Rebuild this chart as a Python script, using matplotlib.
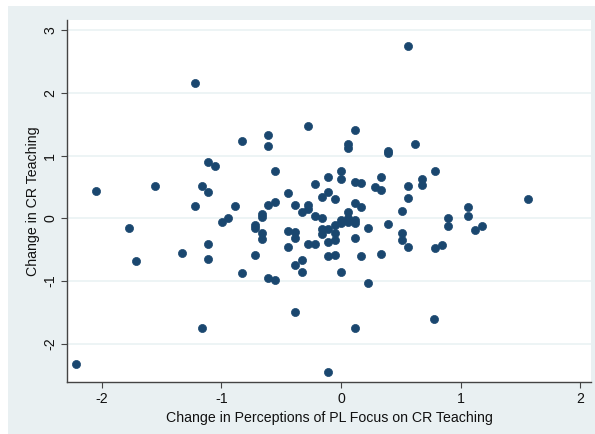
import matplotlib
matplotlib.use("Agg")
import matplotlib.pyplot as plt
from matplotlib.patches import Rectangle

plt.rcParams['font.family'] = ['Liberation Sans', 'DejaVu Sans']

# Change in Perceptions of PL Focus on CR Teaching
x_vals = [-2.214, -2.049, -1.771, -1.715, -1.554, -1.331, -1.217, -1.220, -1.164, -1.107,
          -1.107, -1.050, -1.164, -1.107, -1.107, -0.998, -0.942, -0.886, -0.829, -0.829,
          -0.718, -0.718, -0.718, -0.660, -0.660, -0.660, -0.660, -0.607, -0.607, -0.607,
          -0.551, -0.551, -0.607, -0.551, -0.439, -0.439, -0.384, -0.384, -0.439, -0.384,
          -0.328, -0.328, -0.384, -0.384, -0.328, -0.273, -0.273, -0.273, -0.217, -0.273,
          -0.217, -0.217, -0.161, -0.161, -0.106, -0.050, -0.106, 0.004, 0.004, 0.061,
          0.061, 0.117, 0.117, 0.171, 0.117, 0.171, 0.061, 0.338, 0.284, 0.338,
          0.395, 0.395, 0.618, 0.562, 0.785, 0.673, 0.673, 0.562, 0.562, 0.507,
          1.063, 1.063, 0.896, 0.896, 1.119, 1.175, 1.560, 0.228, 0.395, 0.507,
          0.507, 0.562, 0.785, 0.841, 0.117, -0.106, -0.050, -0.050, -0.106, -0.050,
          0.171, 0.338, 0.004, 0.228, 0.117, 0.779, -0.106, 0.004, 0.061, 0.117,
          -0.050, -0.106, -0.161, -0.161, 0.004, 0.061, 0.117]

# Change in CR Teaching
y_vals = [-2.324, 0.440, -0.150, -0.686, 0.515, -0.558, 2.153, 0.191, 0.515, 0.424,
          0.895, 0.829, -1.754, -0.405, -0.646, -0.062, 0.000, 0.191, 1.233, -0.877,
          -0.099, -0.152, -0.581, 0.069, 0.021, -0.239, -0.338, 1.333, 1.161, 0.207,
          0.268, 0.759, -0.949, -0.984, 0.411, -0.195, -0.211, -0.319, -0.450, -0.745,
          -0.665, -0.861, -1.502, 0.207, 0.108, 0.207, 0.144, 1.472, 0.547, -0.415,
          -0.415, 0.029, -0.003, 0.335, 0.415, 0.300, 0.651, 0.750, 0.627, 1.180,
          1.116, 1.416, 0.574, 0.563, 0.244, 0.185, 0.108, 0.651, 0.502, 0.451,
          1.073, 1.041, 1.180, 2.748, 0.762, 0.630, 0.528, 0.515, 0.316, 0.124,
          0.185, 0.040, 0.000, -0.128, -0.187, -0.128, 0.303, -0.147, -0.096, -0.239,
          -0.346, -0.461, -0.474, -0.418, -0.311, -0.370, -0.354, -0.239, -0.596, -0.585,
          -0.601, -0.574, -0.860, -1.029, -1.754, -1.601, -2.451, -0.027, 0.000, -0.027,
          -0.107, -0.175, -0.175, -0.250, -0.080, -0.054, -0.070]

x_ticks = [-2, -1, 0, 1, 2]
y_ticks = [-2, -1, 0, 1, 2, 3]
x_label = "Change in Perceptions of PL Focus on CR Teaching"
y_label = "Change in CR Teaching"

W, H = 595, 434
fig = plt.figure(figsize=(W / 100, H / 100), dpi=100)
fig.patch.set_facecolor('white')
# Stata-like graph region band
band = Rectangle((8 / W, 0), 1 - 8 / W, 1 - 6 / H, transform=fig.transFigure,
                 facecolor='#e9f0f2', edgecolor='none', zorder=-10)
fig.add_artist(band)

ax = fig.add_axes([67 / W, 1 - 382 / H, (591 - 67) / W, (382 - 20) / H])
ax.set_zorder(1)
ax.set_facecolor('white')
ax.scatter(x_vals, y_vals, s=34, color='#1a476f', edgecolors='#1a476f', linewidths=0.5, zorder=3)

ax.set_xlim(-2.289, 2.089)
ax.set_ylim(-2.611, 3.163)
ax.set_xticks(x_ticks)
ax.set_yticks(y_ticks)
ax.set_xticklabels([f"{t}" for t in x_ticks])
ax.set_yticklabels([f"{t}" for t in y_ticks], rotation=90, va='center')
ax.grid(axis='y', color='#eaf2f3', linewidth=1.2, zorder=0)
ax.set_axisbelow(True)

for side in ['top', 'right']:
    ax.spines[side].set_visible(False)
for side in ['left', 'bottom']:
    ax.spines[side].set_color('#444444')
    ax.spines[side].set_linewidth(1.0)

ax.tick_params(axis='both', colors='#444444', length=4, width=0.8, labelsize=10.2, labelcolor='#111111')
ax.tick_params(axis='y', pad=3)
ax.set_xlabel(x_label, fontsize=10.2, color='#111111', labelpad=3)
ax.set_ylabel(y_label, fontsize=10.2, color='#111111', labelpad=2)

fig.savefig('out.png', dpi=100)
